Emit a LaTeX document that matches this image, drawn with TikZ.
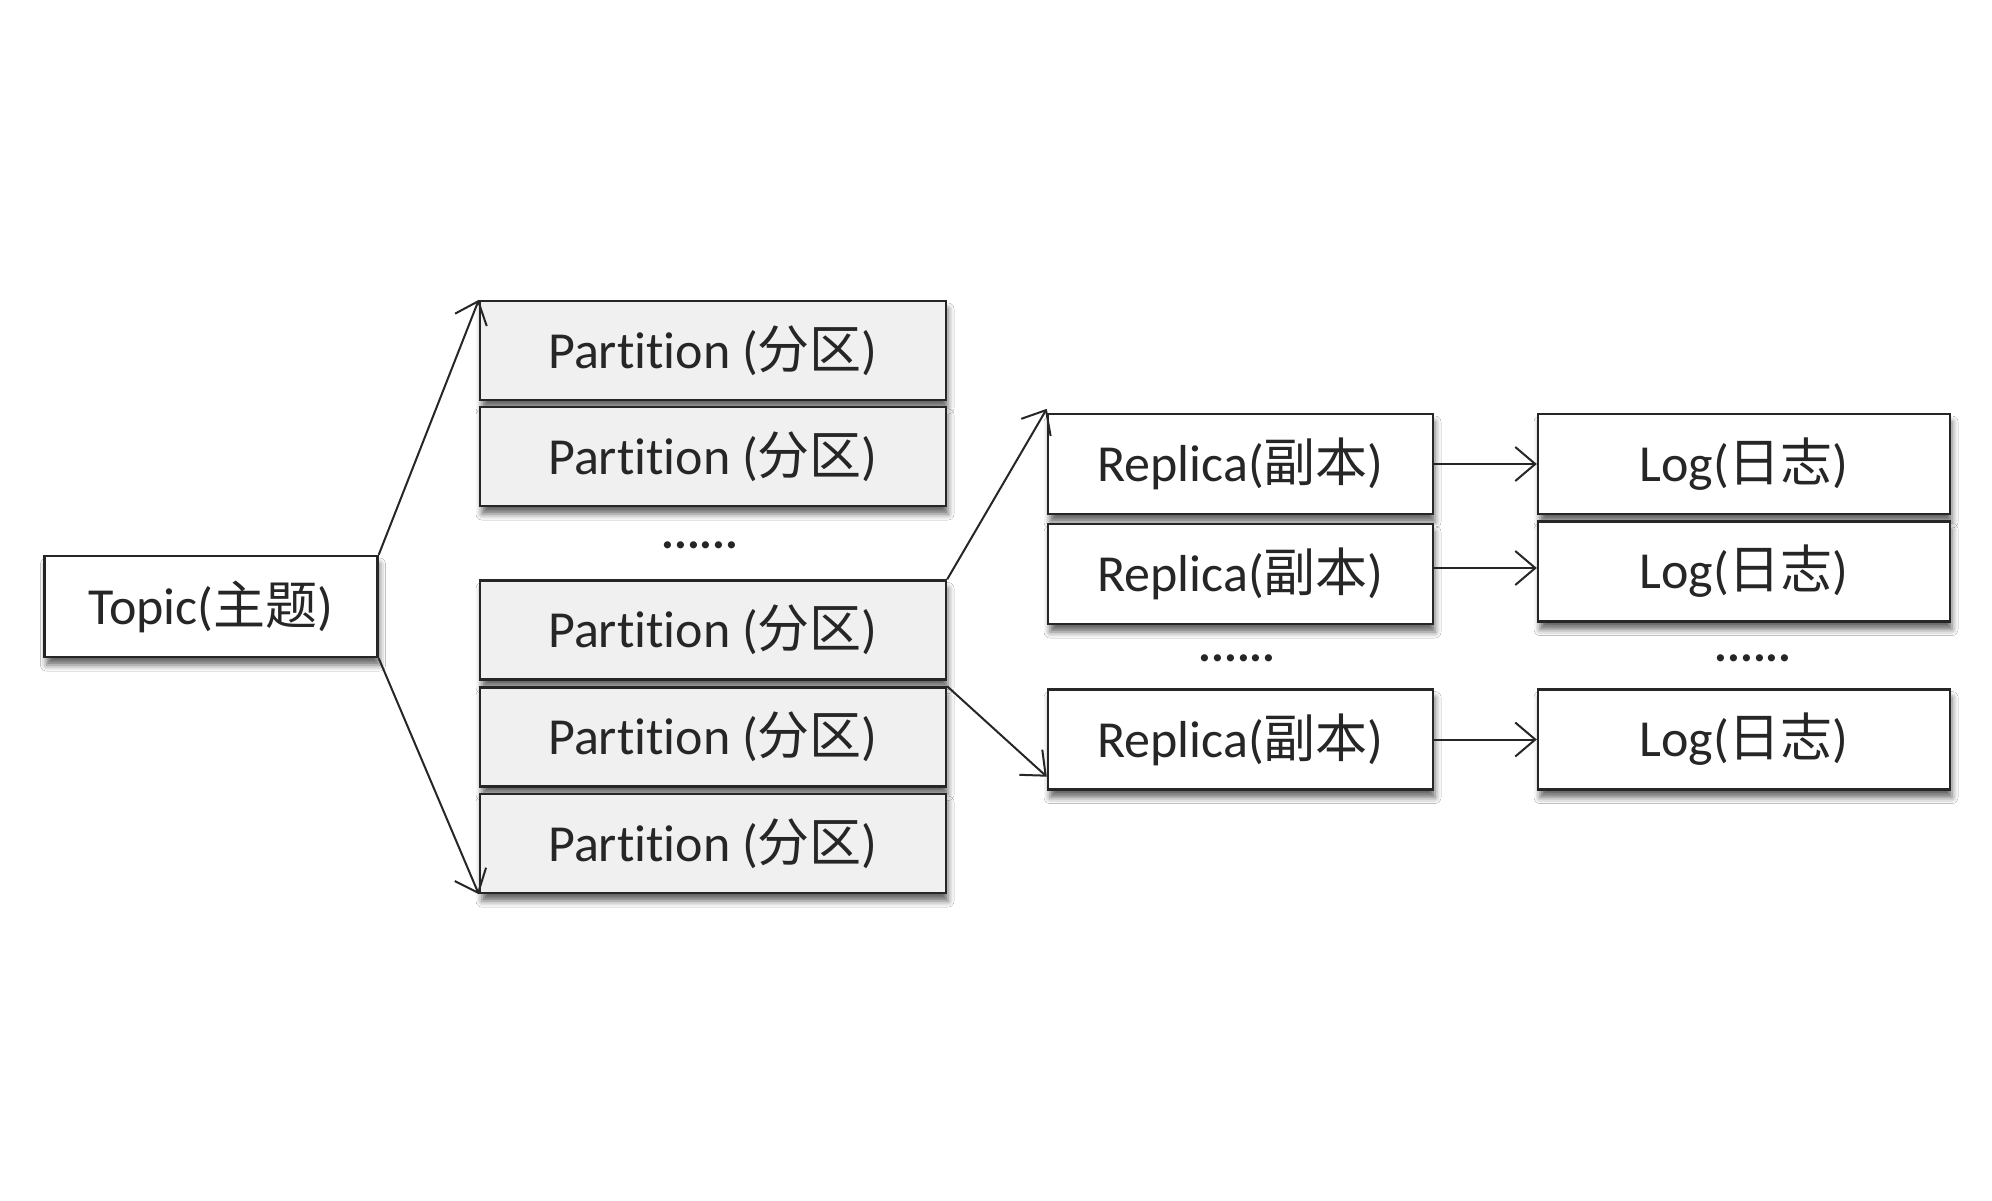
\documentclass[tikz,border=0pt]{standalone}
\usepackage{fontspec}
\setmainfont{Carlito}[Ligatures=NoCommon]
\newfontfamily\cjk{Noto Sans CJK SC}
\usetikzlibrary{arrows.meta,calc,shadows.blur}
\begin{document}
\begin{tikzpicture}[x=0.5pt,y=-0.5pt,
  box/.style={draw=black!85,line width=1.2pt,rectangle,inner sep=0pt,
    font=\fontsize{26}{30}\selectfont,text=black!85,
    blur shadow={shadow xshift=1pt,shadow yshift=-4pt,shadow blur radius=3pt,shadow opacity=60}},
  wbox/.style={box,fill=white},
  gbox/.style={box,fill=black!6},
  conn/.style={draw=black!85,line width=1pt,-{Straight Barb[length=10pt,width=17pt,line width=1pt]}},
  dots/.style={font=\fontsize{24}{28}\selectfont\bfseries,text=black!85}]
\useasboundingbox[fill=white] (0,0) rectangle (1992,1200);
\node[wbox,minimum width=166.5pt,minimum height=50.5pt] (topic) at (211,606.5) {Topic({\cjk 主题})};
\foreach \n/\y in {p1/350.5,p2/456.5,p3/630,p4/737,p5/843.5}
  \node[gbox,minimum width=233pt,minimum height=49.5pt] (\n) at (713,\y) {Partition ({\cjk 分区})};
\node[dots] (pd) at (700,545) {......};
\foreach \n/\y in {r1/464,r2/574,r3/739.5}
  \node[wbox,minimum width=192.5pt,minimum height=50pt] (\n) at (1240.5,\y) {Replica({\cjk 副本})};
\foreach \n/\y in {l1/464,l2/571.5,l3/739.5}
  \node[wbox,minimum width=206pt,minimum height=50pt] (\n) at (1744,\y) {Log({\cjk 日志})};
\node[dots] (rd) at (1237,658) {......};
\node[dots] (ld) at (1753,658) {......};
\coordinate (r3in) at ($(r3.south west)+(0,-14)$);
\draw[conn] (topic.north east) -- (p1.north west);
\draw[conn] (topic.south east) -- (p5.south west);
\draw[conn] (p3.north east) -- ($(r1.north west)+(0,-4)$);
\draw[conn] (p4.north east) -- (r3in);
\draw[conn] (r1.east) -- (r1.east -| l1.west);
\draw[conn] ($(r2.east)+(0,-6)$) -- ($(r2.east -| l2.west)+(0,-6)$);
\draw[conn] (r3.east) -- (r3.east -| l3.west);
\end{tikzpicture}
\end{document}
